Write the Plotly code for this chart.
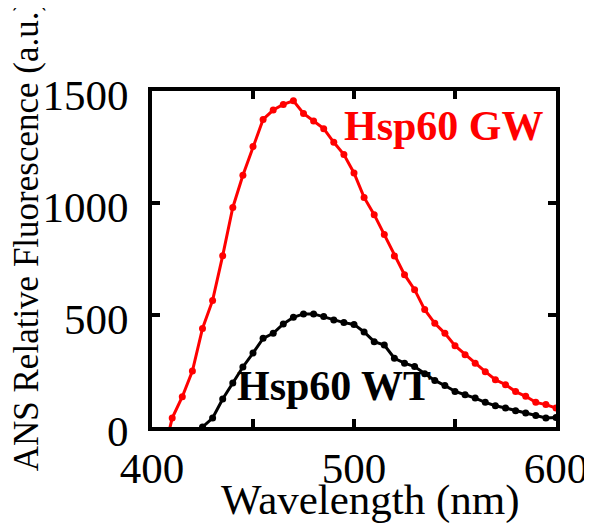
import plotly.graph_objects as go

# Data
gw_wavelength = [405, 410, 415, 420, 425, 430, 435, 440, 445, 450, 455, 460, 465, 470,
                 475, 480, 485, 490, 495, 500, 505, 510, 515, 520, 525, 530, 535, 540,
                 545, 550, 555, 560, 565, 570, 575, 580, 585, 590, 595, 600]
gw_values = [-150, 40, 135, 250, 440, 565, 765, 980, 1124, 1252, 1373, 1415, 1440, 1456,
             1400, 1366, 1332, 1271, 1216, 1134, 1025, 948, 859, 763, 680, 613, 524, 463,
             418, 363, 323, 285, 247, 211, 189, 158, 137, 110, 100, 85]

wt_wavelength = [425, 430, 435, 440, 445, 450, 455, 460, 465, 470, 475, 480, 485, 490,
                 495, 500, 505, 510, 515, 520, 525, 530, 535, 540, 545, 550, 555, 560,
                 565, 570, 575, 580, 585, 590, 595, 600]
wt_values = [0, 40, 125, 196, 268, 330, 396, 418, 460, 490, 505, 505, 493, 478,
             466, 458, 424, 381, 366, 307, 285, 270, 238, 208, 185, 159, 144, 129,
             110, 95, 85, 73, 62, 51, 40, 42]

x_tickvals = [400, 450, 500, 550, 600]
x_ticktext = ["400", "", "500", "", "600"]
y_tickvals = [0, 500, 1000, 1500]
y_ticktext = ["0", "500", "1000", "1500"]

FONT = "Times New Roman, Liberation Serif, serif"

fig = go.Figure()
fig.add_trace(go.Scatter(x=gw_wavelength, y=gw_values, mode="lines+markers",
                         line=dict(color="#ff0000", width=3),
                         marker=dict(color="#ff0000", size=7),
                         name="Hsp60 GW", showlegend=False))
fig.add_trace(go.Scatter(x=wt_wavelength, y=wt_values, mode="lines+markers",
                         line=dict(color="#000000", width=3),
                         marker=dict(color="#000000", size=7),
                         name="Hsp60 WT", showlegend=False))

axis_common = dict(showline=True, linecolor="black", linewidth=4, mirror="ticks",
                   ticks="inside", ticklen=8, tickwidth=4, tickcolor="black",
                   showgrid=False, zeroline=False, automargin=False,
                   tickfont=dict(family=FONT, size=43, color="black"))

fig.update_xaxes(range=[400, 600], tickvals=x_tickvals, ticktext=x_ticktext,
                 **axis_common)
fig.update_yaxes(range=[0, 1500], tickvals=y_tickvals, ticktext=y_ticktext,
                 ticklabelstandoff=11, ticklabelshift=4, **axis_common)

fig.add_annotation(text="Wavelength (nm)",
                   xref="paper", yref="paper", x=0.54, y=-0.216,
                   xanchor="center", yanchor="middle", showarrow=False,
                   font=dict(family=FONT, size=43, color="black"))
fig.add_annotation(text="ANS Relative Fluorescence (a.u.)", textangle=-90,
                   xref="paper", yref="paper", x=-0.31, y=0.57,
                   xanchor="center", yanchor="middle", showarrow=False,
                   font=dict(family=FONT, size=35, color="black"))
fig.add_annotation(text="<b>Hsp60 GW</b>", x=595, y=1344, xref="x", yref="y",
                   xanchor="right", yanchor="middle", showarrow=False,
                   font=dict(family=FONT, size=42, color="#ff0000"))
fig.add_annotation(text="<b>Hsp60 WT</b>", x=539, y=185, xref="x", yref="y",
                   xanchor="right", yanchor="middle", showarrow=False,
                   font=dict(family=FONT, size=42, color="black"))

# The page places the figure 8 px in from the top-left corner, so the figure is
# 8 px smaller than the window and the margins are reduced accordingly.
fig.update_layout(width=584, height=516, paper_bgcolor="white", plot_bgcolor="white",
                  margin=dict(l=144, r=36, t=83, b=97, autoexpand=False),
                  font=dict(family=FONT, color="black"))

fig.write_html("out.html")
